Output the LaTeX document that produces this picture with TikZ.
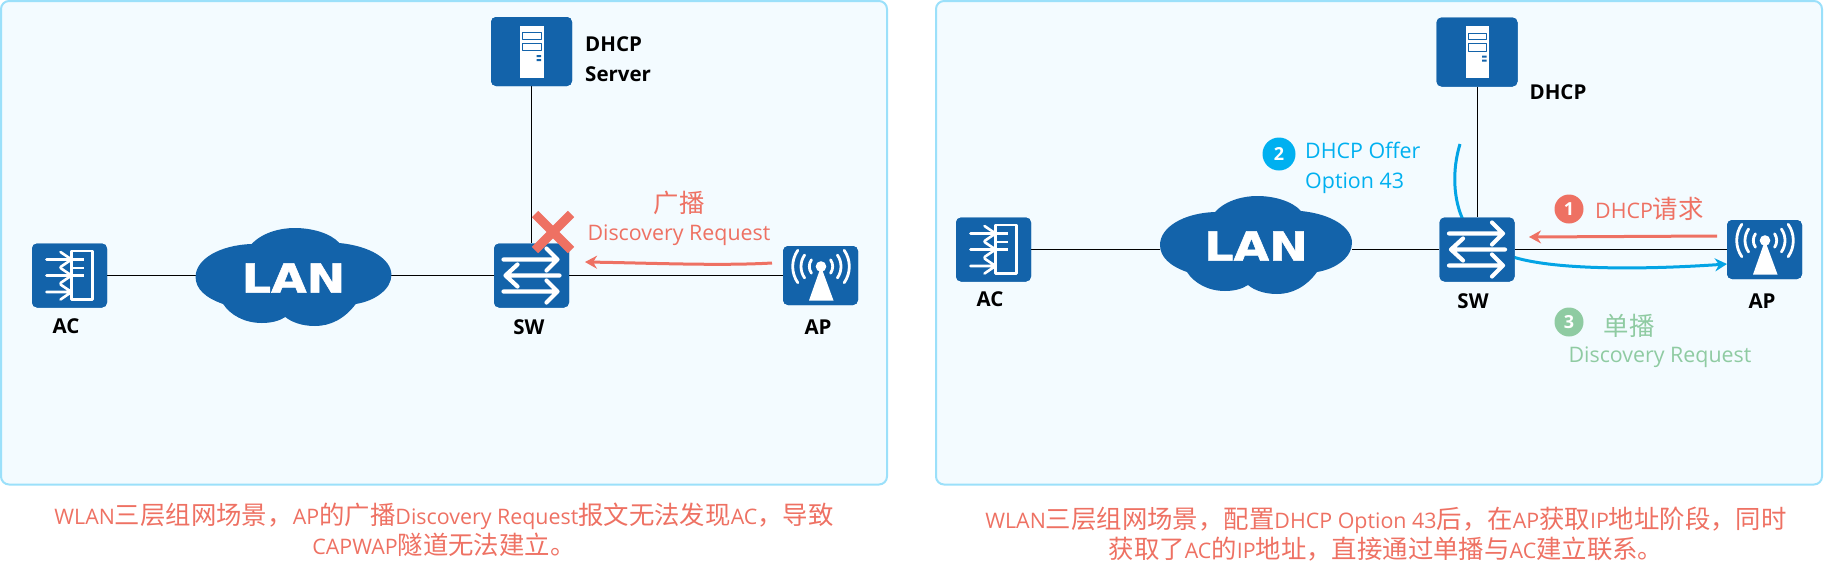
\documentclass[tikz,border=0pt]{standalone}
\usepackage{fontspec}
\usetikzlibrary{arrows.meta}
\setmainfont{Open Sans}
\newfontfamily\cjk{Noto Sans CJK SC}
\newfontfamily\lanfont[BoldFeatures={FakeBold=1.2}]{DejaVu Sans}
\newcommand{\zh}[1]{{\fontsize{25.4}{30}\selectfont\cjk #1}}
\definecolor{panelfill}{HTML}{F3FBFF}
\definecolor{panelline}{HTML}{9BE0FA}
\definecolor{iconblue}{HTML}{1363AA}
\definecolor{redmsg}{HTML}{EE7163}
\definecolor{bluemsg}{HTML}{00B0F0}
\definecolor{greenmsg}{HTML}{8FCBA2}
\tikzset{
	panel/.style={draw=panelline, fill=panelfill, line width=2pt, rounded corners=8pt},
	devbox/.style={fill=iconblue, rounded corners=5pt, inner sep=0pt, minimum width=75pt, minimum height=64pt},
	dhcpbox/.style={devbox, minimum width=81pt, minimum height=69pt},
	apbox/.style={devbox, minimum height=59pt},
	lanbox/.style={inner sep=0pt, minimum width=192pt, minimum height=98pt},
	lantext/.style={text=white, inner sep=0pt, xscale=1.15, font=\lanfont\bfseries\fontsize{40}{40}\selectfont},
	devname/.style={inner sep=0pt, font=\bfseries\fontsize{20.5}{30}\selectfont},
	link/.style={draw=black, line width=1pt},
	iconline/.style={draw=white, line width=2.8pt, line cap=round, line join=round},
	msg/.style={inner sep=0pt, font=\fontsize{21.4}{30}\selectfont},
	msgarrow/.style={line width=3pt, -{Stealth[length=12pt,width=13pt]}},
	stepdot/.style={circle, inner sep=0pt, text=white, font=\bfseries\fontsize{18}{18}\selectfont},
	caption/.style={msg, text=redmsg, align=center},
	pics/swicon/.style={code={
		\draw[iconline, line width=4.2pt] (-28,-16)--(26,-16) (15,-27)--(26,-16)--(15,-5);
		\draw[iconline, line width=4.2pt] (28,0)--(-26,0) (-14,-11)--(-26,0)--(-14,11);
		\draw[iconline, line width=4.2pt] (-28,16)--(26,16) (15,5)--(26,16)--(15,27);
	}},
	pics/acicon/.style={code={
		\draw[white, line width=2.6pt] (2,-24.5) rectangle (23,24);
		\foreach \y in {-16,0,16.5} {
			\draw[iconline, line width=2.6pt] (-23,\y)--(2,\y) (-9,\y-7.5)--(2,\y)--(-9,\y+7.5);
		}
		\foreach \y in {-16,-7.5,0} \draw[white, line width=2.6pt] (2,\y)--(14,\y);
	}},
	pics/apicon/.style={code={
		\fill[white] (0.5,-9) circle (5.3);
		\fill[white] (0.5,-9)--(-11.5,25)--(13,25)--cycle;
		\foreach \r in {11.7,20,28.3} {
			\draw[iconline] (0.5,-9) ++(-35:\r pt) arc[start angle=-35, end angle=35, radius=\r pt];
			\draw[iconline] (0.5,-9) ++(145:\r pt) arc[start angle=145, end angle=215, radius=\r pt];
		}
	}},
	pics/servericon/.style={code={
		\fill[white] (-11.5,-26) rectangle (12,26);
		\draw[iconblue, line width=1pt] (-9,-19) rectangle (9.5,-12.5);
		\draw[iconblue, line width=1pt] (-9,-8.5) rectangle (9.5,-1);
		\fill[iconblue] (5,3.5) rectangle (9.5,5.5) (5,7.5) rectangle (9.5,9.5);
	}},
	pics/lancloud/.style={code={
		\fill[iconblue] (-41,-33) .. controls (-30,-45) and (-12,-49) .. (1,-49)
			.. controls (18,-49) and (36,-44) .. (45,-34)
			.. controls (75,-31) and (96,-18) .. (96,-2)
			.. controls (96,12) and (80,24) .. (61,27)
			.. controls (50,42) and (36,49) .. (21,49)
			.. controls (8,49) and (-2,45) .. (-8,40)
			.. controls (-14,44) and (-22,46) .. (-31,46)
			.. controls (-48,46) and (-62,38) .. (-69,27)
			.. controls (-86,21) and (-96,12) .. (-96,0)
			.. controls (-96,-18) and (-72,-32) .. (-41,-33) -- cycle;
	}},
	pics/xmark/.style={code={
		\draw[redmsg, line width=9pt] (-18,-18)--(18,18) (-18,18)--(18,-18);
	}}
}
\begin{document}
\begin{tikzpicture}[x=1pt, y=-1pt, line join=round, >=stealth]
	\useasboundingbox (0,0) rectangle (1824,579);
	\draw[panel] (1,1) rectangle (887,484.5);
	\draw[panel] (936,1) rectangle (1822,484.5);
	% left scene
	\node[devbox] (acA) at (69.5,275.5) {};
	\node[lanbox, minimum width=195pt] (lanA) at (293.5,275.5) {};
	\node[devbox] (swA) at (531.5,275.5) {};
	\node[apbox] (apA) at (820.5,275.5) {};
	\node[dhcpbox] (dhcpA) at (531.5,51.5) {};
	\draw[link] (acA)--(lanA);
	\draw[link] (lanA)--(swA);
	\draw[link] (swA)--(apA);
	\draw[link] (dhcpA)--(swA);
	\node[devbox] at (swA) {};
	\node[devbox] at (acA) {};
	\node[apbox] at (apA) {};
	\node[dhcpbox] at (dhcpA) {};
	\pic at (acA) {acicon};
	\pic at (swA) {swicon};
	\pic at (apA) {apicon};
	\pic at (dhcpA) {servericon};
	\pic[xscale=1.02] at (293.5,277) {lancloud};
	\node[lantext] (lantextA) at (293.5,278) {LAN};
	\pic at (553,232) {xmark};
	\node[devname] (aclabelA) at (66,326) {AC};
	\node[devname] (swlabelA) at (529,327) {SW};
	\node[devname] (aplabelA) at (818,327) {AP};
	\node[devname, anchor=west, align=left] (dhcplabelA) at (585,59) {DHCP\\Server};
	\coordinate (redstartA) at (772,263);
	\coordinate (redendA) at (585,262);
	\draw[msgarrow, redmsg] (redstartA) .. controls (720,266) and (650,263) .. (redendA);
	\node[msg, text=redmsg] (bcastA) at (679,203) {\zh{广播}};
	\node[msg, text=redmsg] (discA) at (679,235) {Discovery Request};
	\node[caption] (captionA) at (444,529.5) {WLAN\zh{三层组网场景，}AP\zh{的广播}Discovery Request\zh{报文无法发现}AC\zh{，导致}\\CAPWAP\zh{隧道无法建立。}};
	% right scene
	\node[devbox] (acB) at (993.5,249.5) {};
	\node[lanbox] (lanB) at (1256,249.5) {};
	\node[devbox] (swB) at (1477,249.5) {};
	\node[apbox] (apB) at (1764.5,249.5) {};
	\node[dhcpbox] (dhcpB) at (1477,52) {};
	\coordinate (offerstartB) at (1460,144);
	\draw[bluemsg!85!iconblue, line width=3pt] (offerstartB) .. controls (1452,170) and (1453,200) .. (1464,222);
	\coordinate (bluestartB) at (1510,256);
	\coordinate (blueendB) at (1727,264);
	\draw[msgarrow, bluemsg!85!iconblue] (bluestartB) .. controls (1550,270) and (1640,270) .. (blueendB);
	\draw[link] (acB)--(lanB);
	\draw[link] (lanB)--(swB);
	\draw[link] (swB)--(apB);
	\draw[link] (dhcpB)--(swB);
	\node[devbox] at (swB) {};
	\node[devbox] at (acB) {};
	\node[apbox] at (apB) {};
	\node[dhcpbox] at (dhcpB) {};
	\pic at (acB) {acicon};
	\pic at (swB) {swicon};
	\pic at (apB) {apicon};
	\pic at (dhcpB) {servericon};
	\pic at (1256,245) {lancloud};
	\node[lantext] (lantextB) at (1256,246) {LAN};
	\node[devname] (aclabelB) at (990,299) {AC};
	\node[devname] (swlabelB) at (1473,301) {SW};
	\node[devname] (aplabelB) at (1762,301) {AP};
	\node[devname] (dhcplabelB) at (1558,92) {DHCP};
	\coordinate (redstartB) at (1717,236);
	\coordinate (redendB) at (1529,237);
	\draw[msgarrow, redmsg] (redstartB)--(redendB);
	\node[stepdot, fill=redmsg, minimum size=29pt] (dotone) at (1569,209) {1};
	\node[msg, text=redmsg, anchor=west] (reqB) at (1595,209) {DHCP\zh{请求}};
	\node[stepdot, fill=bluemsg, minimum size=33pt] (dottwo) at (1279,154) {2};
	\node[msg, text=bluemsg, anchor=west, align=left] (offerB) at (1305,168) {DHCP Offer\\Option 43};
	\node[stepdot, fill=greenmsg, minimum size=29pt] (dotthree) at (1569,322) {3};
	\node[msg, text=greenmsg] (ucastB) at (1629,326) {\zh{单播}};
	\node[msg, text=greenmsg] (discB) at (1660,357) {Discovery Request};
	\node[caption] (captionB) at (1386,534.5) {WLAN\zh{三层组网场景，配置}DHCP Option 43\zh{后，在}AP\zh{获取}IP\zh{地址阶段，同时}\\\zh{获取了}AC\zh{的}IP\zh{地址，直接通过单播与}AC\zh{建立联系。}};
\end{tikzpicture}
\end{document}
